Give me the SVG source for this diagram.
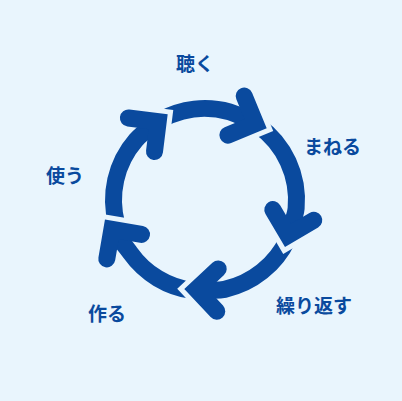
<svg xmlns="http://www.w3.org/2000/svg" width="402" height="401" viewBox="0 0 402 401">
<style>
.lbl{font-family:"Noto Sans CJK JP","Noto Sans",sans-serif;font-weight:bold;font-size:19px;fill:#0a4a9e}
.shaft{fill:none;stroke:#0a4a9e;stroke-width:17;stroke-linecap:butt}
.head{fill:none;stroke:#0a4a9e;stroke-width:17;stroke-linecap:round;stroke-linejoin:miter}
.halo{fill:none;stroke:#000;stroke-width:27;stroke-linecap:round;stroke-linejoin:miter}
</style>
<defs>
<path id="h1" d="M128.4,118 L158.2,121.7 L154.5,151.5"/>
<path id="h2" d="M244.2,96 L255.6,123.7 L227.9,135.1"/>
<path id="h3" d="M272.8,209.6 L288,235.4 L313.8,220.2"/>
<path id="h4" d="M218.2,268.9 L196.3,289.4 L216.8,311.3"/>
<path id="h5" d="M141.5,234.4 L111.9,229.3 L106.8,258.9"/>
<mask id="m1" maskUnits="userSpaceOnUse" x="0" y="0" width="402" height="401"><rect width="402" height="401" fill="#fff"/><use href="#h5" class="halo"/></mask>
<mask id="m2" maskUnits="userSpaceOnUse" x="0" y="0" width="402" height="401"><rect width="402" height="401" fill="#fff"/><use href="#h1" class="halo"/></mask>
<mask id="m3" maskUnits="userSpaceOnUse" x="0" y="0" width="402" height="401"><rect width="402" height="401" fill="#fff"/><use href="#h2" class="halo"/></mask>
<mask id="m4" maskUnits="userSpaceOnUse" x="0" y="0" width="402" height="401"><rect width="402" height="401" fill="#fff"/><use href="#h3" class="halo"/></mask>
<mask id="m5" maskUnits="userSpaceOnUse" x="0" y="0" width="402" height="401"><rect width="402" height="401" fill="#fff"/><use href="#h4" class="halo"/></mask>
</defs>
<rect width="402" height="401" fill="#e9f5fd"/>
<g id="connectors">
<g id="arrow1">
<path class="shaft" mask="url(#m1)" d="M116.83,224.45 A91.5,91.5 0 0 1 135.94,139.97 C142.24,132.72 150.64,127.61 158.2,121.7"/>
<use href="#h1" class="head"/>
</g>
<g id="arrow2">
<path class="shaft" mask="url(#m2)" d="M160.78,119.89 A91.5,91.5 0 0 1 229.6,111.87 C238.75,114.42 246.83,120.05 255.6,123.7"/>
<use href="#h2" class="head"/>
</g>
<g id="arrow3">
<path class="shaft" mask="url(#m3)" d="M258.26,125.6 A91.5,91.5 0 0 1 296.14,208.13 C295.3,217.59 290.38,226.2 288,235.4"/>
<use href="#h3" class="head"/>
</g>
<g id="arrow4">
<path class="shaft" mask="url(#m4)" d="M287.86,238.81 A91.5,91.5 0 0 1 224.65,289.37 C215.42,291.4 205.74,289.73 196.3,289.4"/>
<use href="#h4" class="head"/>
</g>
<g id="arrow5">
<path class="shaft" mask="url(#m5)" d="M192.9,290.69 A91.5,91.5 0 0 1 130.51,253.13 C124.7,244.99 117.68,237.46 111.9,229.3"/>
<use href="#h5" class="head"/>
</g>
</g>
<g id="node-listen"><text class="lbl" x="176" y="71">聴く</text></g>
<g id="node-imitate"><text class="lbl" x="304" y="154">まねる</text></g>
<g id="node-repeat"><text class="lbl" x="276" y="313">繰り返す</text></g>
<g id="node-make"><text class="lbl" x="88" y="321">作る</text></g>
<g id="node-use"><text class="lbl" x="46" y="183">使う</text></g>
</svg>
